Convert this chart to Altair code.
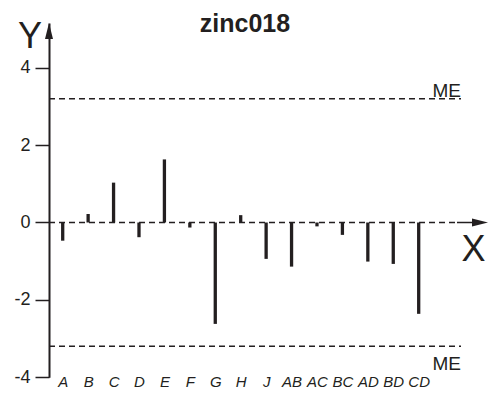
import altair as alt
import pandas as pd

# Effect estimates per factor / interaction
factors = ["A", "B", "C", "D", "E", "F", "G", "H", "J", "AB", "AC", "BC", "AD", "BD", "CD"]
effects = [-0.47, 0.22, 1.03, -0.38, 1.63, -0.13, -2.62, 0.19, -0.94, -1.14, -0.10, -0.32, -1.01, -1.07, -2.36]
margin_of_error = 3.2
y_ticks = [-4, -2, 0, 2, 4]
chart_title = "zinc018"
me_label = "ME"

ink = "#231f20"
font = "Liberation Sans"

df = pd.DataFrame({"factor": factors, "effect": effects})
one = pd.DataFrame({"k": [0]})

W = 383.4
H = 354.3
y_scale = alt.Scale(domain=[-4, 5.155], nice=False, zero=False)
x_scale = alt.Scale(type="point", domain=factors, padding=0.539)

bars = alt.Chart(df).mark_rule(strokeWidth=3.3, color=ink).encode(
    x=alt.X(
        "factor:N",
        scale=x_scale,
        sort=factors,
        axis=alt.Axis(
            title=None, ticks=False, domain=False, grid=False, labelAngle=0,
            labelFontStyle="italic", labelFontSize=15, labelFont=font,
            labelColor=ink, labelPadding=-3,
        ),
    ),
    y=alt.Y(
        "effect:Q",
        scale=y_scale,
        axis=alt.Axis(
            title=None, values=y_ticks, grid=False, tickSize=14, tickWidth=1.5,
            tickColor=ink, domainColor=ink, domainWidth=2, labelFontSize=18,
            labelFont=font, labelColor=ink, labelPadding=5,
            labelExpr="datum.value + ''",
        ),
    ),
    y2=alt.datum(0),
)

# dashed zero line acting as the X axis, with solid tail and arrowhead
zero_line = alt.Chart(one).mark_rule(strokeDash=[6, 4], strokeWidth=1.5, color=ink).encode(
    x=alt.value(0), x2=alt.value(408), y=alt.datum(0)
)
zero_tail = alt.Chart(one).mark_rule(strokeWidth=1.5, color=ink).encode(
    x=alt.value(408), x2=alt.value(425), y=alt.datum(0)
)
x_arrow = alt.Chart(one).mark_point(
    shape="M1,0L-1,-0.5L-1,0.5Z", size=256, filled=True, opacity=1, color=ink, strokeWidth=0
).encode(x=alt.value(431), y=alt.datum(0))
y_arrow = alt.Chart(one).mark_point(
    shape="M0,-1L0.5,1L-0.5,1Z", size=256, filled=True, opacity=1, color=ink, strokeWidth=0
).encode(x=alt.value(0), y=alt.value(8))

# margin-of-error limits
me_hi = alt.Chart(one).mark_rule(strokeDash=[6, 4], strokeWidth=1.5, color=ink).encode(
    x=alt.value(0), x2=alt.value(412), y=alt.datum(margin_of_error)
)
me_lo = alt.Chart(one).mark_rule(strokeDash=[6, 4], strokeWidth=1.5, color=ink).encode(
    x=alt.value(0), x2=alt.value(412), y=alt.datum(-margin_of_error)
)
me_hi_text = alt.Chart(one).mark_text(
    text=me_label, align="right", baseline="alphabetic", dy=-2, fontSize=19, font=font, color=ink
).encode(x=alt.value(412), y=alt.datum(margin_of_error))
me_lo_text = alt.Chart(one).mark_text(
    text=me_label, align="right", baseline="alphabetic", dy=24, fontSize=19, font=font, color=ink
).encode(x=alt.value(412), y=alt.datum(-margin_of_error))

title_text = alt.Chart(one).mark_text(
    text=chart_title, align="center", baseline="alphabetic", fontSize=25,
    fontWeight="bold", font=font, color=ink
).encode(x=alt.value(196), y=alt.value(9))
y_letter = alt.Chart(one).mark_text(
    text="Y", align="center", baseline="alphabetic", fontSize=36, font=font, color=ink
).encode(x=alt.value(-19), y=alt.value(25))
x_letter = alt.Chart(one).mark_text(
    text="X", align="center", baseline="alphabetic", dy=38.5, fontSize=36, font=font, color=ink
).encode(x=alt.value(424.4), y=alt.datum(0))

chart = alt.layer(
    me_hi, me_lo, zero_line, zero_tail, bars, x_arrow, y_arrow,
    me_hi_text, me_lo_text, title_text, y_letter, x_letter,
).properties(
    width=W,
    height=H,
    autosize=alt.AutoSizeParams(type="none"),
    padding={"left": 49, "top": 23, "right": 55.6, "bottom": 23.7},
    background="white",
).configure_view(stroke=None)

chart.save("out.html", embed_options={"renderer": "svg", "actions": False})
